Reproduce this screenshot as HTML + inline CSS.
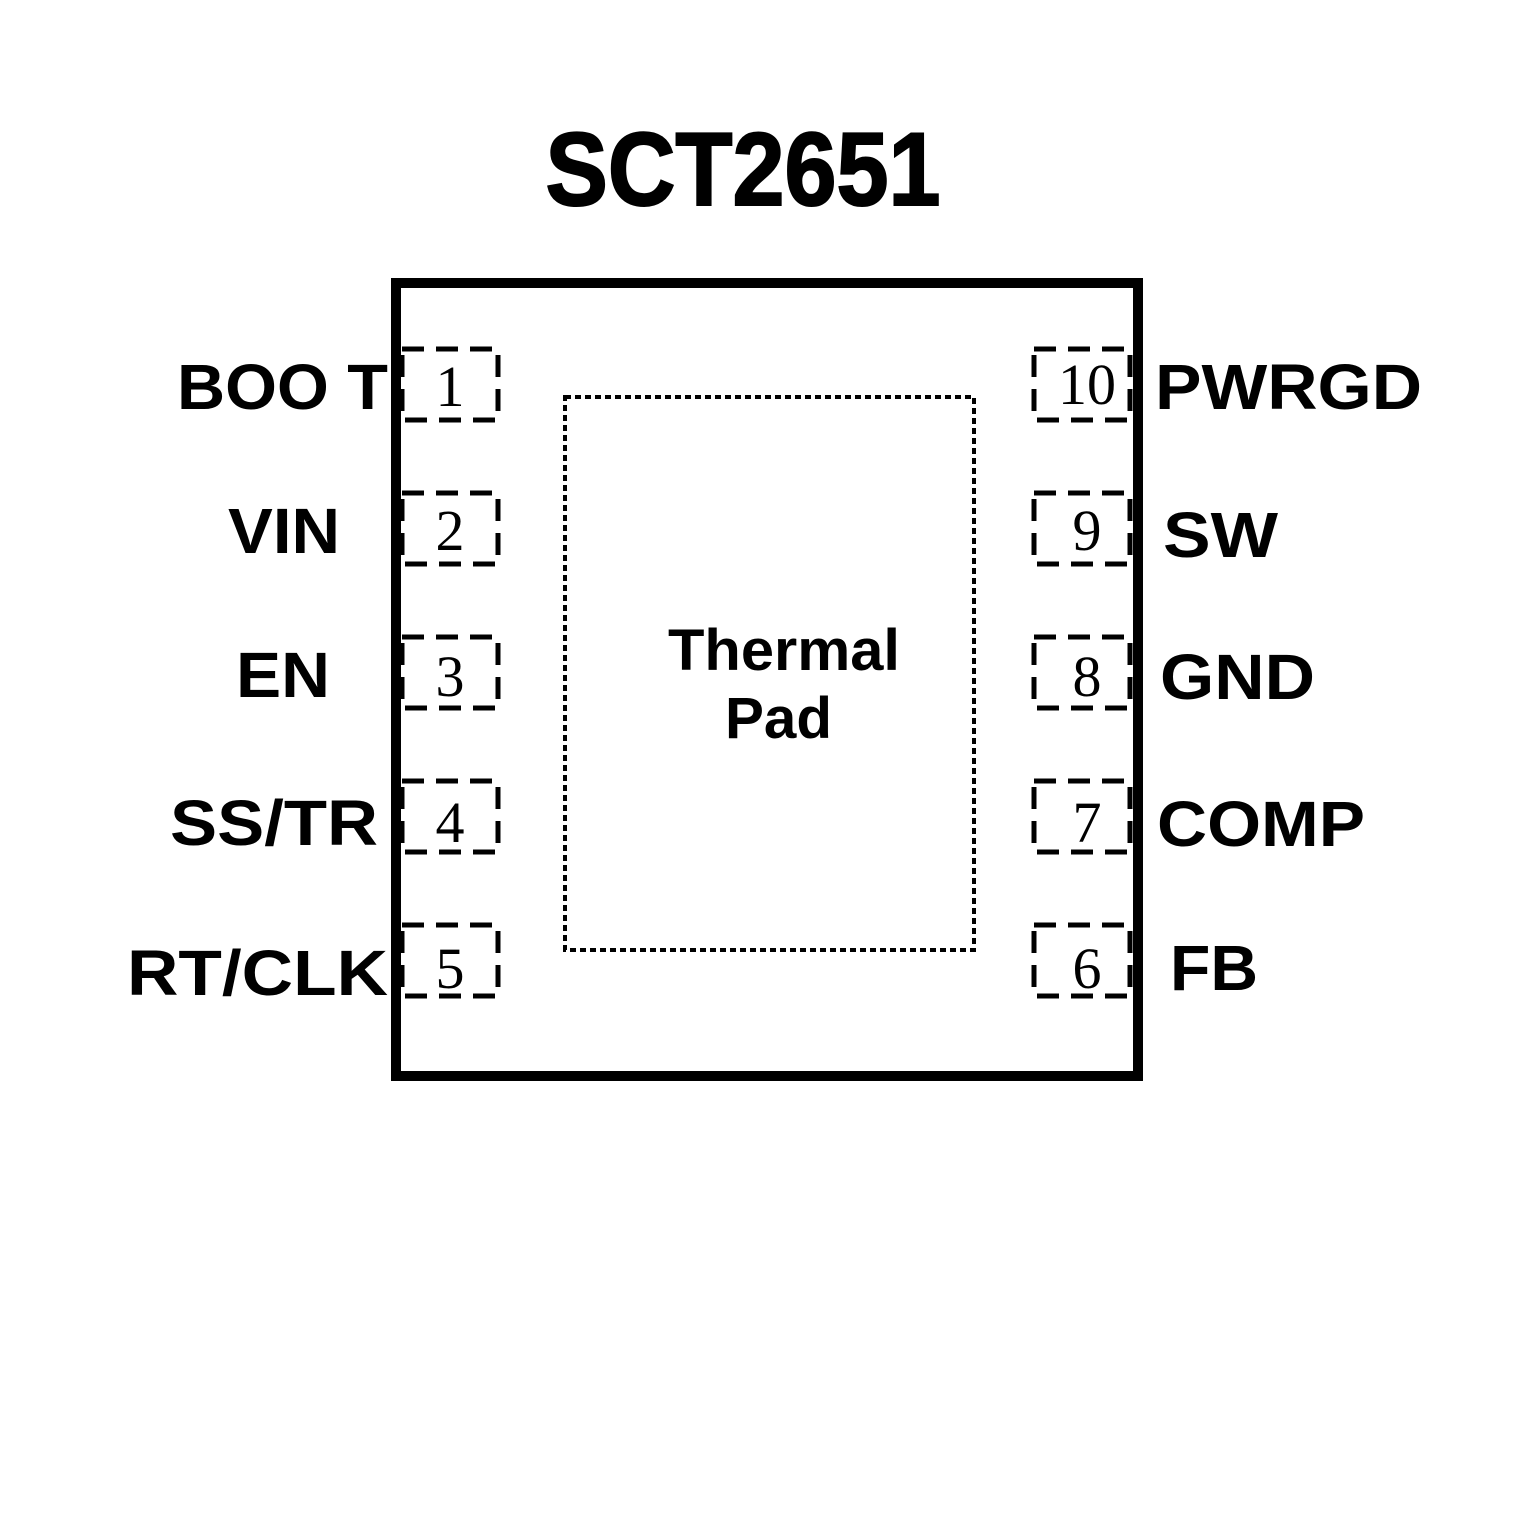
<!DOCTYPE html>
<html><head><style>body{margin:0;background:#fff}</style></head><body>
<svg width="1535" height="1535" xmlns="http://www.w3.org/2000/svg">
<rect width="1535" height="1535" fill="#fff"/>
<text x="743" y="205" font-family="Liberation Sans, sans-serif" font-weight="bold" font-size="104" text-anchor="middle" textLength="395" lengthAdjust="spacingAndGlyphs" stroke="#000" stroke-width="2">SCT2651</text>
<rect x="396" y="283" width="742" height="793" fill="none" stroke="#000" stroke-width="10"/>
<rect x="565" y="397" width="409" height="553" fill="none" stroke="#000" stroke-width="4" stroke-dasharray="6,4"/>
<g font-family="Liberation Sans, sans-serif" font-weight="bold" font-size="58">
<text x="668" y="670" textLength="232" lengthAdjust="spacingAndGlyphs">Thermal</text><text x="725" y="738" textLength="107" lengthAdjust="spacingAndGlyphs">Pad</text></g>
<g fill="none" stroke="#000" stroke-width="5" stroke-dasharray="22,12">
<rect x="402" y="349" width="96" height="71"/>
<rect x="402" y="493" width="96" height="71"/>
<rect x="402" y="637" width="96" height="71"/>
<rect x="402" y="781" width="96" height="71"/>
<rect x="402" y="925" width="96" height="71"/>
<rect x="1034" y="349" width="96" height="71"/>
<rect x="1034" y="493" width="96" height="71"/>
<rect x="1034" y="637" width="96" height="71"/>
<rect x="1034" y="781" width="96" height="71"/>
<rect x="1034" y="925" width="96" height="71"/>
</g>
<g font-family="Liberation Serif, serif" font-size="58" text-anchor="middle">
<text x="450" y="406">1</text><text x="450" y="550">2</text><text x="450" y="696">3</text><text x="450" y="842">4</text><text x="450" y="988">5</text>
<text x="1087" y="404">10</text><text x="1087" y="550">9</text><text x="1087" y="696">8</text><text x="1087" y="842">7</text><text x="1087" y="988">6</text>
</g>
<g font-family="Liberation Sans, sans-serif" font-weight="bold" font-size="64" lengthAdjust="spacingAndGlyphs">
<text x="177" y="409" textLength="211" lengthAdjust="spacingAndGlyphs">BOO T</text>
<text x="228" y="553" textLength="112" lengthAdjust="spacingAndGlyphs">VIN</text>
<text x="236" y="697" textLength="94" lengthAdjust="spacingAndGlyphs">EN</text>
<text x="170" y="845" textLength="208" lengthAdjust="spacingAndGlyphs">SS/TR</text>
<text x="127" y="995" textLength="261" lengthAdjust="spacingAndGlyphs">RT/CLK</text>
<text x="1155" y="409" textLength="267" lengthAdjust="spacingAndGlyphs">PWRGD</text>
<text x="1163" y="557" textLength="115" lengthAdjust="spacingAndGlyphs">SW</text>
<text x="1160" y="699" textLength="155" lengthAdjust="spacingAndGlyphs">GND</text>
<text x="1157" y="846" textLength="208" lengthAdjust="spacingAndGlyphs">COMP</text>
<text x="1170" y="990" textLength="88" lengthAdjust="spacingAndGlyphs">FB</text>
</g>
</svg>
</body></html>
